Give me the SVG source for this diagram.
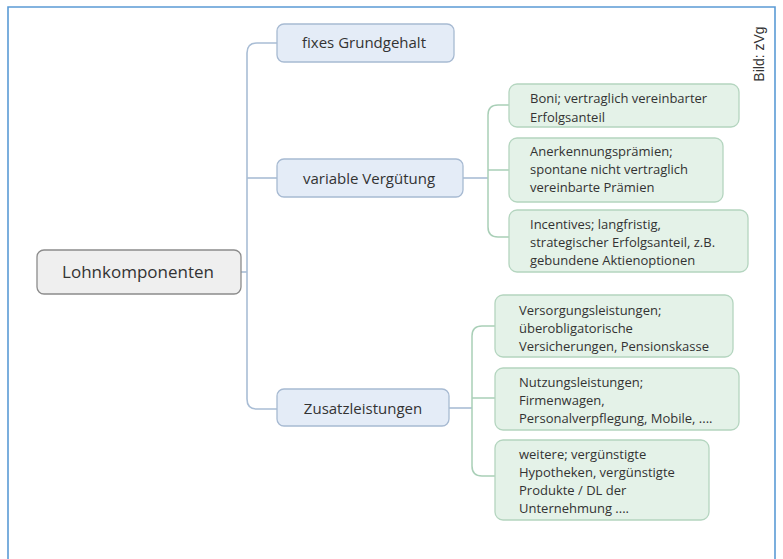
<svg xmlns="http://www.w3.org/2000/svg" width="783" height="559" viewBox="0 0 783 559">
<style>
.t{font-family:"Open Sans","Noto Sans",sans-serif;fill:#333}
.l1{font-size:15px;text-anchor:middle}
.c{font-size:13px}
.n1{fill:#e4ecf7;stroke:#a7bad2;stroke-width:1.3}
.n2{fill:#e4f2e8;stroke:#b4d5bf;stroke-width:1.3}
.cb{fill:none;stroke:#a9bdd5;stroke-width:1.6}
.cg{fill:none;stroke:#a9cfb7;stroke-width:1.5}
</style>
<rect x="0" y="0" width="783" height="559" fill="#fff"/>
<path d="M8,565 V7 H775 V565" fill="none" stroke="#5b9bd5" stroke-width="1.6"/>
<g id="connectors">
<path class="cb" d="M241,272 H247"/>
<path class="cb" d="M277,43 H257 Q247,43 247,53 V399 Q247,409 257,409 H277"/>
<path class="cb" d="M247,178 H277"/>
<path class="cb" d="M463,178 H488"/>
<path class="cg" d="M509,105 H498 Q488,105 488,115 V227 Q488,237 498,237 H509"/>
<path class="cg" d="M488,170 H509"/>
<path class="cb" d="M449,408 H472"/>
<path class="cg" d="M495,326 H482 Q472,326 472,336 V466 Q472,476 482,476 H495"/>
<path class="cg" d="M472,398 H495"/>
</g>
<g id="root">
<rect x="37" y="250" width="204" height="44" rx="7" fill="#efefef" stroke="#8c8c8c" stroke-width="1.3"/>
<text class="t" x="138" y="278" font-size="17" text-anchor="middle">Lohnkomponenten</text>
</g>
<g id="fixes">
<rect class="n1" x="277" y="24" width="177" height="38" rx="7"/>
<text class="t l1" x="364" y="48">fixes Grundgehalt</text>
</g>
<g id="variable">
<rect class="n1" x="277" y="159" width="186" height="38" rx="7"/>
<text class="t l1" x="369" y="184">variable Vergütung</text>
</g>
<g id="zusatz">
<rect class="n1" x="277" y="389" width="172" height="37" rx="7"/>
<text class="t l1" x="363" y="414">Zusatzleistungen</text>
</g>
<g id="boni">
<rect class="n2" x="509" y="84" width="230" height="43" rx="8"/>
<text class="t c" x="530" y="103">Boni; vertraglich  vereinbarter</text>
<text class="t c" x="530" y="122">Erfolgsanteil</text>
</g>
<g id="anerkennung">
<rect class="n2" x="509" y="138" width="214" height="64" rx="8"/>
<text class="t c" x="530" y="156">Anerkennungsprämien;</text>
<text class="t c" x="530" y="174">spontane nicht vertraglich</text>
<text class="t c" x="530" y="192">vereinbarte Prämien</text>
</g>
<g id="incentives">
<rect class="n2" x="509" y="210" width="239" height="62" rx="8"/>
<text class="t c" x="530" y="229">Incentives; langfristig,</text>
<text class="t c" x="530" y="247">strategischer Erfolgsanteil, z.B.</text>
<text class="t c" x="530" y="265">gebundene Aktienoptionen</text>
</g>
<g id="versorgung">
<rect class="n2" x="495" y="295" width="238" height="62" rx="8"/>
<text class="t c" x="519" y="315">Versorgungsleistungen;</text>
<text class="t c" x="519" y="333">überobligatorische</text>
<text class="t c" x="519" y="351">Versicherungen, Pensionskasse</text>
</g>
<g id="nutzung">
<rect class="n2" x="495" y="368" width="244" height="62" rx="8"/>
<text class="t c" x="519" y="387">Nutzungsleistungen;</text>
<text class="t c" x="519" y="405">Firmenwagen,</text>
<text class="t c" x="519" y="423">Personalverpflegung, Mobile, ....</text>
</g>
<g id="weitere">
<rect class="n2" x="495" y="440" width="214" height="80" rx="8"/>
<text class="t c" x="519" y="459">weitere; vergünstigte</text>
<text class="t c" x="519" y="477">Hypotheken, vergünstigte</text>
<text class="t c" x="519" y="495">Produkte / DL der</text>
<text class="t c" x="519" y="513">Unternehmung ....</text>
</g>
<text x="764" y="54" font-family="'Liberation Sans',Arial,sans-serif" font-size="14" fill="#333" text-anchor="middle" transform="rotate(-90 764 54)">Bild: zVg</text>
</svg>
